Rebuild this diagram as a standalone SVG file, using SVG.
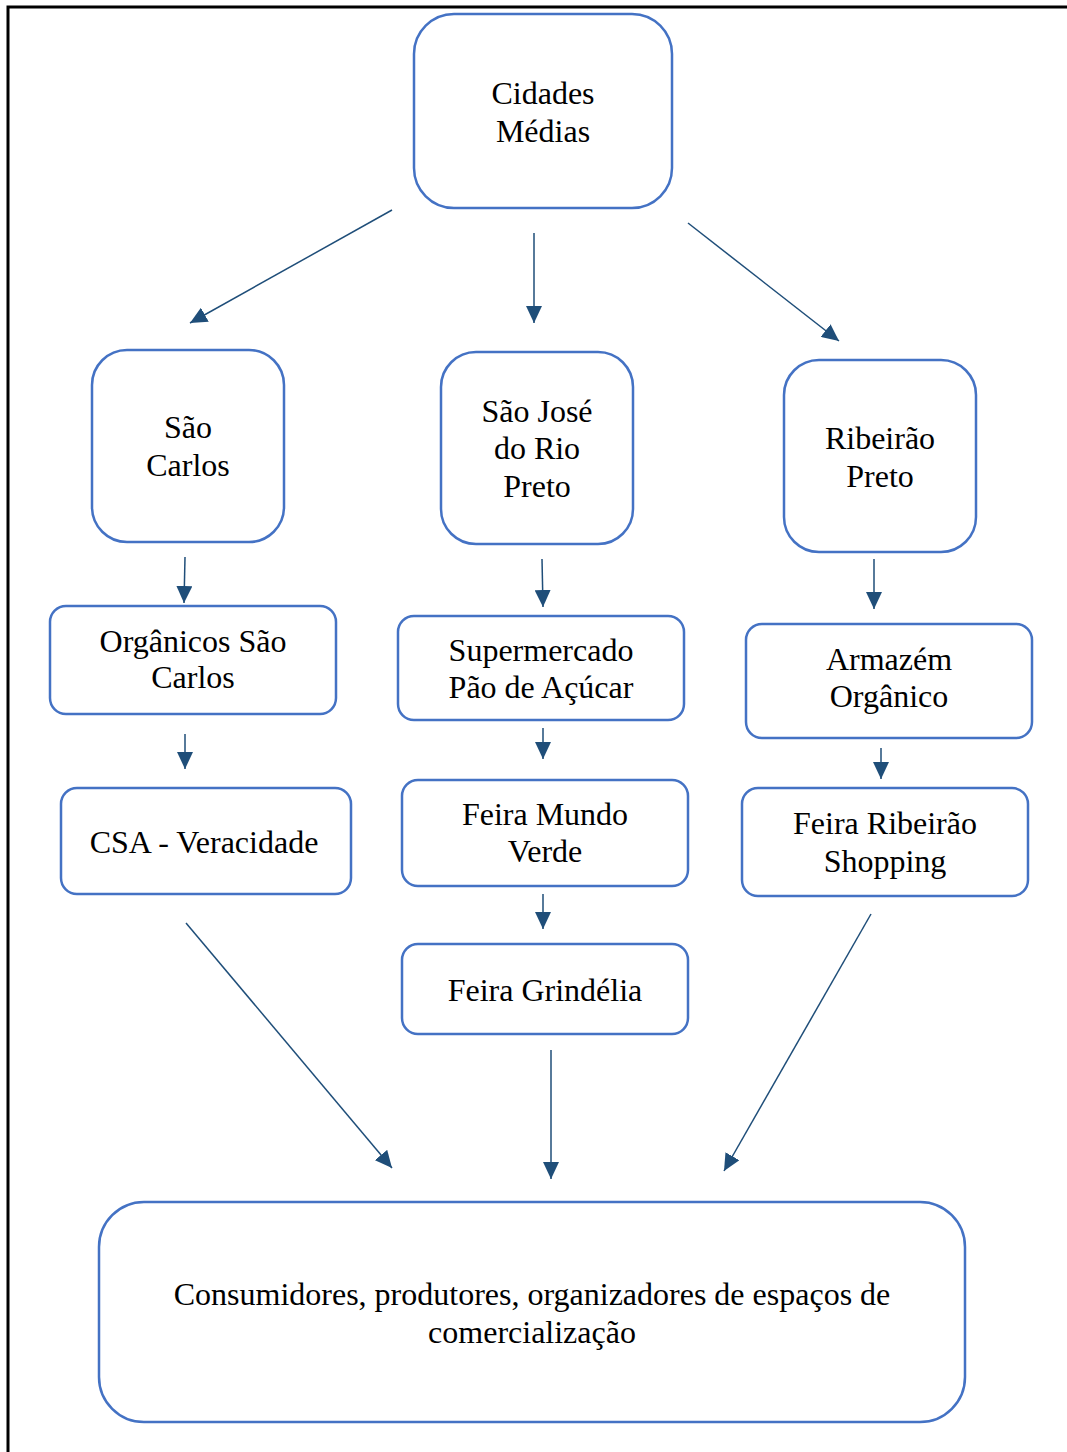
<svg xmlns="http://www.w3.org/2000/svg" width="1067" height="1452" viewBox="0 0 1067 1452">
<defs>
<marker id="ah" markerUnits="userSpaceOnUse" markerWidth="17" markerHeight="16" refX="17" refY="8" orient="auto">
<path d="M0,0 L17,8 L0,16 z" fill="#1F4E79"/>
</marker>
<style>
.n{fill:#fff;stroke:#4472C4;stroke-width:2.5}
.t{font-family:"Liberation Serif","Times New Roman",serif;font-size:32px;fill:#000;text-anchor:middle}
.c line{stroke:#1F4E79;stroke-width:1.5;marker-end:url(#ah)}
</style>
</defs>
<rect width="1067" height="1452" fill="#fff"/>
<path d="M8,1452 V7 H1067" fill="none" stroke="#000" stroke-width="3"/>
<g id="n-cidades"><rect class="n" x="414" y="14" width="258" height="194" rx="40"/><text class="t" x="543" y="104">Cidades</text><text class="t" x="543" y="142">Médias</text></g>
<g id="n-saocarlos"><rect class="n" x="92" y="350" width="192" height="192" rx="35"/><text class="t" x="188" y="438">São</text><text class="t" x="188" y="476">Carlos</text></g>
<g id="n-sjrp"><rect class="n" x="441" y="352" width="192" height="192" rx="35"/><text class="t" x="537" y="422">São José</text><text class="t" x="537" y="459">do Rio</text><text class="t" x="537" y="497">Preto</text></g>
<g id="n-ribeirao"><rect class="n" x="784" y="360" width="192" height="192" rx="35"/><text class="t" x="880" y="449">Ribeirão</text><text class="t" x="880" y="487">Preto</text></g>
<g id="n-organicos"><rect class="n" x="50" y="606" width="286" height="108" rx="16"/><text class="t" x="193" y="652">Orgânicos São</text><text class="t" x="193" y="688">Carlos</text></g>
<g id="n-supermercado"><rect class="n" x="398" y="616" width="286" height="104" rx="16"/><text class="t" x="541" y="661">Supermercado</text><text class="t" x="541" y="698">Pão de Açúcar</text></g>
<g id="n-armazem"><rect class="n" x="746" y="624" width="286" height="114" rx="16"/><text class="t" x="889" y="670">Armazém</text><text class="t" x="889" y="707">Orgânico</text></g>
<g id="n-csa"><rect class="n" x="61" y="788" width="290" height="106" rx="16"/><text class="t" x="204" y="853">CSA - Veracidade</text></g>
<g id="n-mundoverde"><rect class="n" x="402" y="780" width="286" height="106" rx="16"/><text class="t" x="545" y="825">Feira Mundo</text><text class="t" x="545" y="862">Verde</text></g>
<g id="n-feirarib"><rect class="n" x="742" y="788" width="286" height="108" rx="16"/><text class="t" x="885" y="834">Feira Ribeirão</text><text class="t" x="885" y="872">Shopping</text></g>
<g id="n-grindelia"><rect class="n" x="402" y="944" width="286" height="90" rx="16"/><text class="t" x="545" y="1001">Feira Grindélia</text></g>
<g id="n-consumidores"><rect class="n" x="99" y="1202" width="866" height="220" rx="45"/><text class="t" x="532" y="1305">Consumidores, produtores, organizadores de espaços de</text><text class="t" x="532" y="1343">comercialização</text></g>
<g id="connectors" class="c">
<line x1="392" y1="210" x2="190" y2="323"/>
<line x1="534" y1="233" x2="534" y2="323"/>
<line x1="688" y1="223" x2="839" y2="341"/>
<line x1="185" y1="557" x2="184" y2="603"/>
<line x1="542" y1="559" x2="543" y2="607"/>
<line x1="874" y1="559" x2="874" y2="609"/>
<line x1="185" y1="734" x2="185" y2="769"/>
<line x1="543" y1="728" x2="543" y2="759"/>
<line x1="881" y1="748" x2="881" y2="779"/>
<line x1="543" y1="894" x2="543" y2="929"/>
<line x1="186" y1="923" x2="392" y2="1168"/>
<line x1="551" y1="1050" x2="551" y2="1179"/>
<line x1="871" y1="914" x2="724" y2="1171"/>
</g>
</svg>
